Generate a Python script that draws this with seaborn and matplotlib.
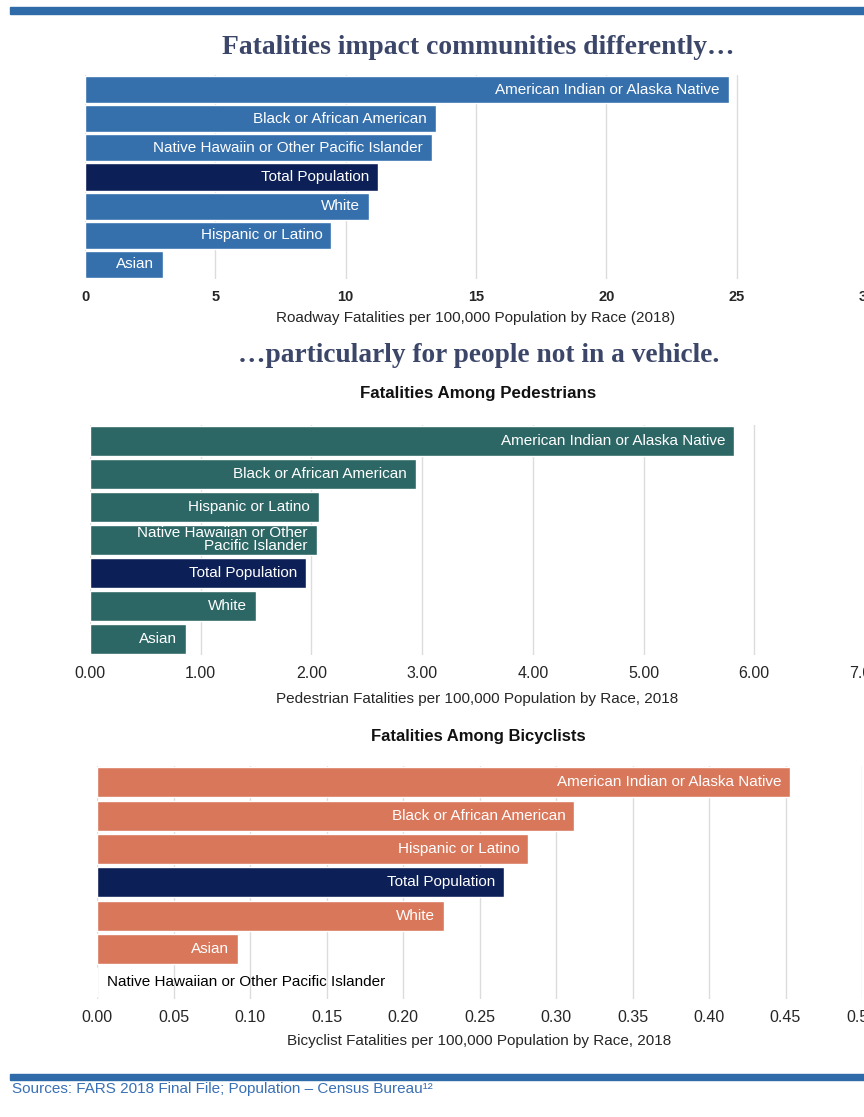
import matplotlib
matplotlib.use("Agg")
import matplotlib.pyplot as plt
from matplotlib.patches import Rectangle
import seaborn as sns
import pandas as pd

# ---------------- data ----------------
road_cats = ["American Indian or Alaska Native", "Black or African American",
             "Native Hawaiin or Other Pacific Islander", "Total Population",
             "White", "Hispanic or Latino", "Asian"]
road_vals = [24.7, 13.45, 13.3, 11.25, 10.9, 9.45, 3.0]
road_ticks = [0, 5, 10, 15, 20, 25, 30]

ped_cats = ["American Indian or Alaska Native", "Black or African American",
            "Hispanic or Latino", "Native Hawaiian or Other\nPacific Islander",
            "Total Population", "White", "Asian"]
ped_vals = [5.82, 2.94, 2.07, 2.05, 1.95, 1.50, 0.87]
ped_ticks = [0, 1, 2, 3, 4, 5, 6, 7]

bike_cats = ["American Indian or Alaska Native", "Black or African American",
             "Hispanic or Latino", "Total Population", "White", "Asian",
             "Native Hawaiian or Other Pacific Islander"]
bike_vals = [0.453, 0.312, 0.282, 0.266, 0.227, 0.092, 0.0]
bike_ticks = [0.0, 0.05, 0.10, 0.15, 0.20, 0.25, 0.30, 0.35, 0.40, 0.45, 0.50]

# ---------------- style ----------------
sns.set_style("white")
plt.rcParams["font.family"] = ["Liberation Sans", "DejaVu Sans"]

BLUE = "#3570ad"
TEAL = "#2c6766"
SALMON = "#d9775b"
NAVY = "#0c1f56"
RULE = "#2f6aa9"
TITLE_C = "#3b4669"
GRID = "#dcdcdc"

W, H = 864, 1117
fig = plt.figure(figsize=(W / 100, H / 100), dpi=100)


def fx(px):
    return px / W


def fy(py):
    return 1 - py / H


def draw(ax, cats, vals, color, width, ticks, tickfmt, tickfs, tickweight,
         xlabel, labelpad, tickpad):
    df = pd.DataFrame({"cat": cats, "val": vals})
    pal = {c: (NAVY if c == "Total Population" else color) for c in cats}
    sns.barplot(data=df, x="val", y="cat", hue="cat", order=cats,
                hue_order=cats, palette=pal, width=width, orient="h",
                legend=False, saturation=1, ax=ax, zorder=2)
    for i, (c, v) in enumerate(zip(cats, vals)):
        if v > 0:
            ax.annotate(c, (v, i), xytext=(-9, 0), textcoords="offset pixels",
                        ha="right", va="center", color="white", fontsize=11,
                        multialignment="right", linespacing=0.95, zorder=3)
        else:
            ax.annotate(c, (0, i), xytext=(10, 0), textcoords="offset pixels",
                        ha="left", va="center", color="black", fontsize=11,
                        zorder=3)
    ax.set_xlim(ticks[0], ticks[-1])
    ax.set_xticks(ticks)
    ax.set_xticklabels([tickfmt.format(t) for t in ticks], fontsize=tickfs,
                       fontweight=tickweight)
    ax.set_yticks([])
    ax.set_ylabel("")
    ax.set_xlabel(xlabel, fontsize=11, labelpad=labelpad)
    ax.tick_params(axis="x", length=0, pad=tickpad)
    ax.grid(axis="x", color=GRID, lw=1, zorder=0)
    ax.set_axisbelow(True)
    for s in ax.spines.values():
        s.set_visible(False)
    ax.patch.set_alpha(0)


ax1 = fig.add_axes([fx(85), fy(279), fx(782), 204 / H])
draw(ax1, road_cats, road_vals, BLUE, 0.93, road_ticks, "{:g}", 10.5, "bold",
     "Roadway Fatalities per 100,000 Population by Race (2018)", 5, 8.2)

ax2 = fig.add_axes([fx(90), fy(655), fx(775), 230.5 / H])
draw(ax2, ped_cats, ped_vals, TEAL, 0.91, ped_ticks, "{:.2f}", 11.5, "normal",
     "Pedestrian Fatalities per 100,000 Population by Race, 2018", 7.5, 8)

ax3 = fig.add_axes([fx(97), fy(999), fx(765), 233.5 / H])
draw(ax3, bike_cats, bike_vals, SALMON, 0.9, bike_ticks, "{:.2f}", 11.5, "normal",
     "Bicyclist Fatalities per 100,000 Population by Race, 2018", 6.5, 8)

# headings
fig.text(fx(478), fy(48), "Fatalities impact communities differently…",
         ha="center", va="center", fontsize=19.9, fontweight="bold",
         family=["Liberation Serif", "DejaVu Serif"], color=TITLE_C)
fig.text(fx(479), fy(356), "…particularly for people not in a vehicle.",
         ha="center", va="center", fontsize=19.7, fontweight="bold",
         family=["Liberation Serif", "DejaVu Serif"], color=TITLE_C)
fig.text(fx(478), fy(394), "Fatalities Among Pedestrians", ha="center",
         va="center", fontsize=12.2, fontweight="bold", color="#111111")
fig.text(fx(478), fy(736), "Fatalities Among Bicyclists", ha="center",
         va="center", fontsize=12, fontweight="bold", color="#111111")

# rules
fig.patches.append(Rectangle((fx(10), fy(14)), fx(854), 7 / H,
                             transform=fig.transFigure, color=RULE, zorder=5))
fig.patches.append(Rectangle((fx(10), fy(1080)), fx(854), 6 / H,
                             transform=fig.transFigure, color=RULE, zorder=5))

fig.text(fx(12), fy(1089), "Sources: FARS 2018 Final File; Population – Census Bureau¹²",
         ha="left", va="center", fontsize=11, color="#3a70b5")

fig.savefig("out.png", dpi=100)
